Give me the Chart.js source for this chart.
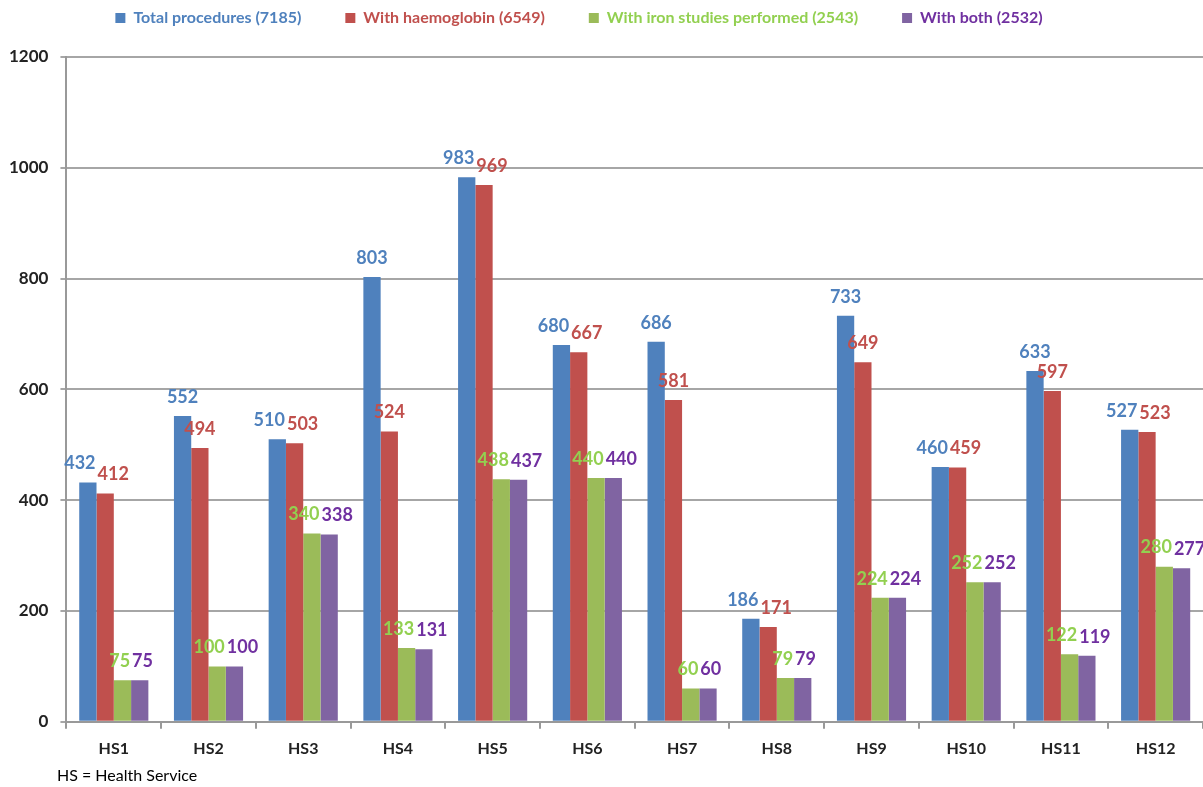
<!DOCTYPE html>
<html>
<head>
<meta charset="utf-8">
<script src="https://cdn.jsdelivr.net/npm/chart.js@4.4.1/dist/chart.umd.min.js"></script>
<style>
  body { margin: 0; background: #fff; overflow: hidden; }
  #wrap { position: relative; width: 1203px; height: 787px; }
  #note { position: absolute; left: 57px; top: 765px; font: 16px Lato, sans-serif; color: #000; }
</style>
</head>
<body>
<div id="wrap">
  <canvas id="myChart" width="1203" height="787"></canvas>
  <div id="note">HS = Health Service</div>
</div>
<script>
'use strict';

let services = ['HS1', 'HS2', 'HS3', 'HS4', 'HS5', 'HS6', 'HS7', 'HS8', 'HS9', 'HS10', 'HS11', 'HS12'];
let seriesNames = ['Total procedures (7185)', 'With haemoglobin (6549)', 'With iron studies performed (2543)', 'With both (2532)'];
let totalProcedures = [432, 552, 510, 803, 983, 680, 686, 186, 733, 460, 633, 527];
let withHaemoglobin = [412, 494, 503, 524, 969, 667, 581, 171, 649, 459, 597, 523];
let withIron = [75, 100, 340, 133, 438, 440, 60, 79, 224, 252, 122, 280];
let withBoth = [75, 100, 338, 131, 437, 440, 60, 79, 224, 252, 119, 277];
let yTicks = [0, 200, 400, 600, 800, 1000, 1200];

let barColors = ['#4F81BD', '#C0504D', '#9BBB59', '#8064A2'];
let textColors = ['#4F81BD', '#C0504D', '#92D050', '#7030A0'];

// value labels above the bars, pushed apart a little when they collide
let barLabels = {
  id: 'barLabels',
  afterDatasetsDraw(chart) {
    let ctx = chart.ctx;
    ctx.save();
    ctx.font = 'bold 18px Lato';
    ctx.textAlign = 'center';
    ctx.textBaseline = 'bottom';
    for (let c = 0; c < services.length; c++) {
      let items = [];
      chart.data.datasets.forEach(function (ds, d) {
        let bar = chart.getDatasetMeta(d).data[c];
        let txt = String(ds.data[c]);
        items.push({ txt: txt, x: bar.x, y: bar.y - 10, w: ctx.measureText(txt).width, color: textColors[d] });
      });
      for (let i = 1; i < items.length; i++) {
        let a = items[i - 1];
        let b = items[i];
        if (Math.abs(a.y - b.y) < 14) {
          let overlap = (a.x + a.w / 2) - (b.x - b.w / 2) + 2;
          if (overlap > 0) {
            a.x -= overlap / 2;
            b.x += overlap / 2;
          }
        }
      }
      items.forEach(function (it) {
        ctx.fillStyle = it.color;
        ctx.fillText(it.txt, it.x, it.y);
      });
    }
    ctx.restore();
  }
};

let ctx = document.getElementById('myChart').getContext('2d');
let myChart = new Chart(ctx, {
  type: 'bar',
  data: {
    labels: services,
    datasets: [
      { label: seriesNames[0], data: totalProcedures, backgroundColor: barColors[0] },
      { label: seriesNames[1], data: withHaemoglobin, backgroundColor: barColors[1] },
      { label: seriesNames[2], data: withIron, backgroundColor: barColors[2] },
      { label: seriesNames[3], data: withBoth, backgroundColor: barColors[3] }
    ]
  },
  options: {
    responsive: false,
    animation: false,
    datasets: { bar: { barPercentage: 1, categoryPercentage: 0.73 } },
    layout: { padding: { left: -3, right: 0, top: -13, bottom: 19 } },
    plugins: {
      tooltip: { enabled: false },
      legend: {
        position: 'top',
        labels: {
          font: { family: 'Lato', size: 16, weight: 'bold' },
          boxWidth: 10,
          boxHeight: 10,
          padding: 44,
          generateLabels: function (chart) {
            let items = Chart.defaults.plugins.legend.labels.generateLabels(chart);
            items.forEach(function (it, i) {
              it.fontColor = textColors[i];
              it.lineWidth = 0;
              it.strokeStyle = 'transparent';
            });
            return items;
          }
        }
      }
    },
    scales: {
      x: {
        grid: { drawOnChartArea: false, drawTicks: true, tickLength: 7, color: '#999', lineWidth: 2 },
        border: { color: '#999', width: 2 },
        ticks: { font: { family: 'Lato', size: 16, weight: 'bold' }, color: '#222', padding: 10 }
      },
      y: {
        min: 0,
        max: 1200,
        afterBuildTicks: function (axis) {
          axis.ticks = yTicks.map(function (v) { return { value: v }; });
        },
        grid: { color: '#a6a6a6', lineWidth: 2, tickLength: 6 },
        border: { color: '#999', width: 2 },
        ticks: {
          font: { family: 'Lato', size: 17, weight: 'bold' },
          color: '#222',
          padding: 12,
          callback: function (v) { return String(v); }
        }
      }
    }
  },
  plugins: [barLabels]
});

// the legend sits higher and a bit left of centre in the original
let legendDraw = myChart.legend.draw;
myChart.legend.draw = function () {
  this.ctx.save();
  this.ctx.translate(-21, -21);
  legendDraw.call(this);
  this.ctx.restore();
};
myChart.draw();
</script>
</body>
</html>
